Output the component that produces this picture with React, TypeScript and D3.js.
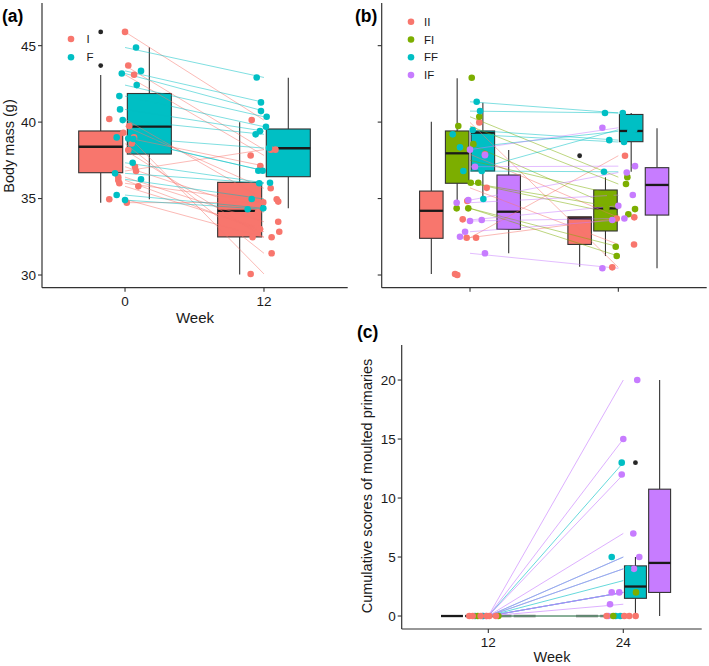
import React from 'react';
import * as d3 from 'd3';

const FONT = "'Liberation Sans', Arial, Helvetica, sans-serif";
const AXIS = '#333333';
const TEXT = '#1a1a1a';
const PAL2 = ['#F8766D', '#00BFC4'];
const PAL4 = ['#F8766D', '#7CAE00', '#00BFC4', '#C77CFF'];

// ---------------- Panel (a): body mass at week 0 and 12 ----------------
const weeksA = [0, 12];
const groupsA = ['I', 'F'];
const yTicksAB = [30, 35, 40, 45];
// box stats [lower whisker, Q1, median, Q3, upper whisker] for week 0, week 12
const boxA_I = [[34.73, 36.69, 38.39, 39.42, 43.08], [30.04, 32.49, 34.19, 36.06, 39.99]];
const boxA_F = [[34.95, 37.91, 39.7, 41.87, 44.9], [34.36, 36.43, 38.29, 39.55, 42.9]];
const outA_I = [[45.9, 43.7], []];
const outA_F = [[], []];
// individuals (same index = same bird), jitter in weeks
const massA_I_w0 = [45.9, 43.7, 43.1, 40.2, 39.74, 39.3, 39.0, 38.6, 38.17, 37.08, 36.8, 36.4, 36.2, 36.0, 35.8, 34.95, 34.73];
const jitA_I_w0 = [0, 0.28, 0.78, -1.36, 0.37, -0.15, 0.78, 0.58, 0.28, 0.86, 0.95, -0.58, -0.58, -0.49, 1.15, -1.36, 0.15];
const massA_I_w12 = [40.13, 38.2, 37.82, 34.95, 35.67, 30.07, 37.13, 31.42, 32.47, 34.1, 38.2, 33.48, 32.83, 34.8, 33.0, 32.47, 34.75];
const jitA_I_w12 = [-1.06, 0.6, -1.15, 1.1, 0.58, -1.15, -0.32, 0.66, 0.66, -0.52, 0.99, 1.23, 1.32, 1.23, -0.35, -0.98, -0.06];
const massA_F_w0 = [44.88, 43.35, 43.18, 42.42, 41.7, 40.83, 40.13, 39.0, 38.93, 38.9, 37.34, 36.65, 36.26, 35.23, 34.9];
const jitA_F_w0 = [0.95, 1.38, -0.28, 1.01, -0.49, -0.43, -0.2, -0.72, 0.28, 0.72, 0.66, -0.86, 1.38, -0.72, 0];
const massA_F_w12 = [42.92, 41.29, 40.72, 40.35, 39.7, 39.41, 39.2, 38.3, 36.82, 36.82, 36.03, 36.0, 34.97, 34.36, 34.3];
const jitA_F_w12 = [-0.63, -0.26, -0.26, 0.23, 0.17, -0.35, -0.72, 0.43, -0.49, -0.11, 0.52, -0.41, -1.06, -0.06, -1.41];

// ---------------- Panel (b): body mass at week 12 and 24 by diet switch ----------------
const weeksB = [12, 24];
const groupsB = ['II', 'FI', 'FF', 'IF'];
const boxB_II = [[30.07, 32.4, 34.2, 35.49, 40.03], [30.54, 32.0, 33.7, 33.81, 33.81]];
const boxB_FI = [[34.8, 36.0, 37.96, 39.42, 42.87], [31.24, 32.88, 34.36, 35.56, 36.39]];
const boxB_FF = [[35.12, 36.8, 39.31, 39.42, 41.27], [36.75, 38.72, 39.42, 40.5, 40.6]];
const boxB_IF = [[31.42, 32.99, 34.14, 36.54, 38.18], [30.44, 33.92, 35.89, 37.02, 39.6]];
const outB_II = [[], [37.8]];
const massB_II_w12 = [39.98, 37.9, 35.7, 32.44, 32.44, 34.84, 33.64, 30.07, 30.0];
const jitB_II_w12 = [0.75, 1.21, 1.35, -0.27, 0.49, -0.22, -0.59, -1.21, -1.03];
const massB_II_w24 = [30.5, 33.77, 32.0, 37.8, 33.7, null, null, null, null];
const jitB_II_w24 = [-0.49, 1.29, 1.27, 0.54, -0.13, 0, 0, 0, 0];
const massB_FI_w12 = [40.35, 39.74, 38.56, 36.03, 36.03, 34.36, 34.36, 42.9, 37.5];
const jitB_FI_w12 = [0.75, -0.95, 0.27, 0.06, 0.67, -1.08, -0.14, 0.14, -0.65];
const massB_FI_w24 = [36.4, 35.95, 34.31, 33.97, 34.4, 31.85, 31.24, null, 35.2];
const jitB_FI_w24 = [0.73, 0.62, 1.35, 0.81, -0.97, -0.21, -0.13, 0, -0.65];
const massB_FF_w12 = [41.33, 40.72, 39.48, 39.2, 38.35, 36.8, 36.8, 34.97];
const jitB_FF_w12 = [0.54, 0.81, 0.22, -1.4, -0.81, -0.54, 0.95, 1.08];
const massB_FF_w24 = [40.6, 40.6, 38.82, 38.7, 39.4, 36.75, 39.5, null];
const jitB_FF_w24 = [-1.08, 0.36, -0.73, 0.46, 0.97, -1.16, 1.29, 0];
const massB_IF_w12 = [38.2, 37.84, 37.08, 34.9, 34.73, 33.6, 33.53, 32.83, 32.5, 31.42];
const jitB_IF_w12 = [0, 1.21, 0.4, -0.14, -1.08, 0.95, 0, -0.4, -0.81, 1.21];
const massB_IF_w24 = [39.63, null, 37.12, 36.7, 35.23, 34.53, 33.7, 33.6, null, 30.44];
const jitB_IF_w24 = [-1.29, 0, 1.35, 0.68, 1.17, 0, 0.49, -0.49, 0, -1.29];

// ---------------- Panel (c): cumulative moult scores at week 12 and 24 ----------------
const weeksC = [12, 24];
const yTicksC = [0, 5, 10, 15, 20];
const zeroBox = [0, 0, 0, 0, 0];
const boxC_II = [zeroBox, zeroBox];
const boxC_FI = [zeroBox, zeroBox];
const boxC_FF = [zeroBox, [0, 1.5, 2.5, 4.25, 5]];
const boxC_IF = [zeroBox, [0, 2, 4.5, 10.75, 20]];
const outC_FF = [[], [13]];
const scoreC_II_w12 = [0, 0, 0, 0, 0, 0];
const jitC_II_w12 = [-1.69, -1.39, -0.68, -0.14, 0.09, 0.68];
const scoreC_II_w24 = [0, 0, 0, 0];
const jitC_II_w24 = [-1.48, 0.09, 0.53, 1.1];
const scoreC_FI_w12 = [0, 0];
const jitC_FI_w12 = [-0.94, 0.89];
const scoreC_FI_w24 = [2, 0];
const jitC_FI_w24 = [1.13, -0.89];
const scoreC_FF_w12 = [0, 0];
const jitC_FF_w12 = [-1.18, -0.5];
const scoreC_FF_w24 = [13, 5, 4, 3, 2, 2, 0, 0];
const jitC_FF_w24 = [-0.14, -1.03, 0.42, 0.8, 0.53, 1.24, -0.68, -0.27];
const scoreC_IF_w12 = [0, 0];
const jitC_IF_w12 = [-0.44, -0.2];
const scoreC_IF_w24 = [20, 15, 12, 7, 5, 4, 2, 2, 1, 0];
const jitC_IF_w24 = [1.24, 0, -0.14, 0.89, 1.42, 0.95, -1.03, -0.36, -1.18, -1.33];
// lines in (c): from 0 at week 12 to the week-24 score
const lineC_II = [0];
const lineC_FI = [0];
const lineC_FF = [13, 5, 4, 3, 2, 2, 0, 0];
const lineC_IF = [20, 15, 12, 7, 5, 4, 2, 2, 1, 0];

type Num = number | null;
type Grp = {
  name: string; color: string; box: number[][]; out: number[][];
  pts: { v: Num[]; j: number[] }[]; lines: [number, number][];
};

const pairLines = (a: Num[], b: Num[]): [number, number][] =>
  a.map((v, i) => [v, b[i]] as [Num, Num]).filter(p => p[0] != null && p[1] != null) as [number, number][];

function Panel({ x, y, weeks, groups, boxW, offsets, lineOpacity, lineOrder }: any) {
  const bw = x(boxW) - x(0);
  const gs: Grp[] = groups;
  const order: number[] = lineOrder || gs.map((_, i) => i);
  return (
    <g>
      {gs.map((g, gi) => weeks.map((wk: number, wi: number) => {
        const s = g.box[wi];
        const cx = x(wk + offsets[gi]);
        const [lo, q1, md, q3, hi] = s;
        return (
          <g key={`b${gi}-${wi}`}>
            <line x1={cx} x2={cx} y1={y(hi)} y2={y(q3)} stroke={AXIS} strokeWidth={1.1} />
            <line x1={cx} x2={cx} y1={y(q1)} y2={y(lo)} stroke={AXIS} strokeWidth={1.1} />
            <rect x={cx - bw / 2} y={y(q3)} width={bw} height={Math.max(0, y(q1) - y(q3))} fill={g.color} stroke={AXIS} strokeWidth={1.1} />
            <line x1={cx - bw / 2} x2={cx + bw / 2} y1={y(md)} y2={y(md)} stroke="#1a1a1a" strokeWidth={2.3} />
            {g.out[wi].map((o, oi) => <circle key={oi} cx={cx} cy={y(o)} r={2.4} fill="#262626" />)}
          </g>
        );
      }))}
      {order.map(gi => gs[gi].lines.map((l, li) => (
        <line key={`l${gi}-${li}`} x1={x(weeks[0])} x2={x(weeks[1])} y1={y(l[0])} y2={y(l[1])}
          stroke={gs[gi].color} strokeOpacity={lineOpacity} strokeWidth={1} />
      )))}
      {gs.map((g, gi) => g.pts.map((p, wi) => p.v.map((v, i) => v == null ? null : (
        <circle key={`p${gi}-${wi}-${i}`} cx={x(weeks[wi] + p.j[i])} cy={y(v)} r={3.3} fill={g.color} />
      ))))}
    </g>
  );
}

function YAxis({ y, x0, top, bottom, ticks, labels }: any) {
  return (
    <g>
      <line x1={x0} x2={x0} y1={top} y2={bottom} stroke={AXIS} strokeWidth={1.2} />
      {ticks.map((t: number) => (
        <g key={t}>
          <line x1={x0 - 4} x2={x0} y1={y(t)} y2={y(t)} stroke={AXIS} strokeWidth={1.1} />
          {labels && <text x={x0 - 6} y={y(t)} dy="0.36em" textAnchor="end" fontSize={13.5} fill={TEXT} fontFamily={FONT}>{t}</text>}
        </g>
      ))}
    </g>
  );
}

function XAxis({ x, y0, left, right, ticks, labels, labelY }: any) {
  return (
    <g>
      <line x1={left} x2={right} y1={y0} y2={y0} stroke={AXIS} strokeWidth={1.2} />
      {ticks.map((t: number) => (
        <g key={t}>
          <line x1={x(t)} x2={x(t)} y1={y0} y2={y0 + 4} stroke={AXIS} strokeWidth={1.1} />
          {labels && <text x={x(t)} y={labelY} textAnchor="middle" fontSize={13.5} fill={TEXT} fontFamily={FONT}>{t}</text>}
        </g>
      ))}
    </g>
  );
}

export default function App() {
  const xA = d3.scaleLinear().domain([-7.17, 19.23]).range([42, 347.7]);
  const yAB = d3.scaleLinear().domain([29.17, 47.79]).range([287.7, 3]);
  const xB = d3.scaleLinear().domain([4.855, 31.15]).range([381.7, 706.7]);
  const xC = d3.scaleLinear().domain([4.3, 30.97]).range([401.7, 701.7]);
  const yC = d3.scaleLinear().domain([-1.1, 22.97]).range([629, 345]);

  const gA: Grp[] = [
    { name: groupsA[0], color: PAL2[0], box: boxA_I, out: outA_I,
      pts: [{ v: massA_I_w0, j: jitA_I_w0 }, { v: massA_I_w12, j: jitA_I_w12 }], lines: pairLines(massA_I_w0, massA_I_w12) },
    { name: groupsA[1], color: PAL2[1], box: boxA_F, out: outA_F,
      pts: [{ v: massA_F_w0, j: jitA_F_w0 }, { v: massA_F_w12, j: jitA_F_w12 }], lines: pairLines(massA_F_w0, massA_F_w12) },
  ];
  const gB: Grp[] = [
    { name: groupsB[0], color: PAL4[0], box: boxB_II, out: outB_II,
      pts: [{ v: massB_II_w12, j: jitB_II_w12 }, { v: massB_II_w24, j: jitB_II_w24 }], lines: pairLines(massB_II_w12, massB_II_w24) },
    { name: groupsB[1], color: PAL4[1], box: boxB_FI, out: [[], []],
      pts: [{ v: massB_FI_w12, j: jitB_FI_w12 }, { v: massB_FI_w24, j: jitB_FI_w24 }], lines: pairLines(massB_FI_w12, massB_FI_w24) },
    { name: groupsB[2], color: PAL4[2], box: boxB_FF, out: [[], []],
      pts: [{ v: massB_FF_w12, j: jitB_FF_w12 }, { v: massB_FF_w24, j: jitB_FF_w24 }], lines: pairLines(massB_FF_w12, massB_FF_w24) },
    { name: groupsB[3], color: PAL4[3], box: boxB_IF, out: [[], []],
      pts: [{ v: massB_IF_w12, j: jitB_IF_w12 }, { v: massB_IF_w24, j: jitB_IF_w24 }], lines: pairLines(massB_IF_w12, massB_IF_w24) },
  ];
  const gC: Grp[] = [
    { name: groupsB[0], color: PAL4[0], box: boxC_II, out: [[], []],
      pts: [{ v: scoreC_II_w12, j: jitC_II_w12 }, { v: scoreC_II_w24, j: jitC_II_w24 }], lines: lineC_II.map(e => [0, e] as [number, number]) },
    { name: groupsB[1], color: PAL4[1], box: boxC_FI, out: [[], []],
      pts: [{ v: scoreC_FI_w12, j: jitC_FI_w12 }, { v: scoreC_FI_w24, j: jitC_FI_w24 }], lines: lineC_FI.map(e => [0, e] as [number, number]) },
    { name: groupsB[2], color: PAL4[2], box: boxC_FF, out: outC_FF,
      pts: [{ v: scoreC_FF_w12, j: jitC_FF_w12 }, { v: scoreC_FF_w24, j: jitC_FF_w24 }], lines: lineC_FF.map(e => [0, e] as [number, number]) },
    { name: groupsB[3], color: PAL4[3], box: boxC_IF, out: [[], []],
      pts: [{ v: scoreC_IF_w12, j: jitC_IF_w12 }, { v: scoreC_IF_w24, j: jitC_IF_w24 }], lines: lineC_IF.map(e => [0, e] as [number, number]) },
  ];
  // C: draw points at week 12 with red on top
  const gCpts: Grp[] = [gC[3], gC[2], gC[1], gC[0]];

  const tag = (t: string, x: number, y: number) => (
    <text x={x} y={y} fontSize={17.5} fontWeight="bold" fill="#000" fontFamily={FONT}>{t}</text>
  );

  return (
    <svg width={709} height={666} style={{ position: 'absolute', left: 0, top: 0, background: '#fff' }} fontFamily={FONT}>
      <rect width={709} height={666} fill="#fff" />
      {/* ---------- (a) ---------- */}
      <Panel x={xA} y={yAB} weeks={weeksA} groups={gA} boxW={3.8} offsets={[-2.1, 2.1]} lineOpacity={0.5} />
      <YAxis y={yAB} x0={42} top={3} bottom={287.7} ticks={yTicksAB} labels={true} />
      <XAxis x={xA} y0={287.7} left={42} right={347.7} ticks={weeksA} labels={true} labelY={305.5} />
      <text transform="translate(13.5,146) rotate(-90)" textAnchor="middle" fontSize={14.5} fill={TEXT}>Body mass (g)</text>
      <text x={195} y={322.5} textAnchor="middle" fontSize={15} fill={TEXT}>Week</text>
      {groupsA.map((g, i) => (
        <g key={g}>
          <circle cx={71} cy={39 + i * 18.3} r={3.3} fill={PAL2[i]} />
          <text x={86.5} y={39 + i * 18.3} dy="0.36em" fontSize={11.5} fill={TEXT}>{g}</text>
        </g>
      ))}
      {tag('(a)', 2, 22)}

      {/* ---------- (b) ---------- */}
      <Panel x={xB} y={yAB} weeks={weeksB} groups={gB} boxW={1.9} offsets={[-3.13, -1.04, 1.04, 3.13]} lineOpacity={0.5} />
      <YAxis y={yAB} x0={381.7} top={3} bottom={287.7} ticks={yTicksAB} labels={false} />
      <XAxis x={xB} y0={287.7} left={381.7} right={706.7} ticks={weeksB} labels={false} labelY={0} />
      {groupsB.map((g, i) => (
        <g key={g}>
          <circle cx={411} cy={21.7 + i * 17.8} r={3.3} fill={PAL4[i]} />
          <text x={424} y={21.7 + i * 17.8} dy="0.36em" fontSize={11.5} fill={TEXT}>{g}</text>
        </g>
      ))}
      {tag('(b)', 355, 22)}

      {/* ---------- (c) ---------- */}
      <Panel x={xC} y={yC} weeks={weeksC} groups={gCpts} boxW={1.95} offsets={[3.23, 1.08, -1.08, -3.23]} lineOpacity={0.6} lineOrder={[3, 1, 0, 2]} />
      <YAxis y={yC} x0={401.7} top={345} bottom={629} ticks={yTicksC} labels={true} />
      <XAxis x={xC} y0={629} left={401.7} right={701.7} ticks={weeksC} labels={true} labelY={646.5} />
      <text transform="translate(372,486) rotate(-90)" textAnchor="middle" fontSize={14.5} fill={TEXT}>Cumulative scores of moulted primaries</text>
      <text x={552} y={662} textAnchor="middle" fontSize={14.5} fill={TEXT}>Week</text>
      {tag('(c)', 357, 338)}
    </svg>
  );
}
